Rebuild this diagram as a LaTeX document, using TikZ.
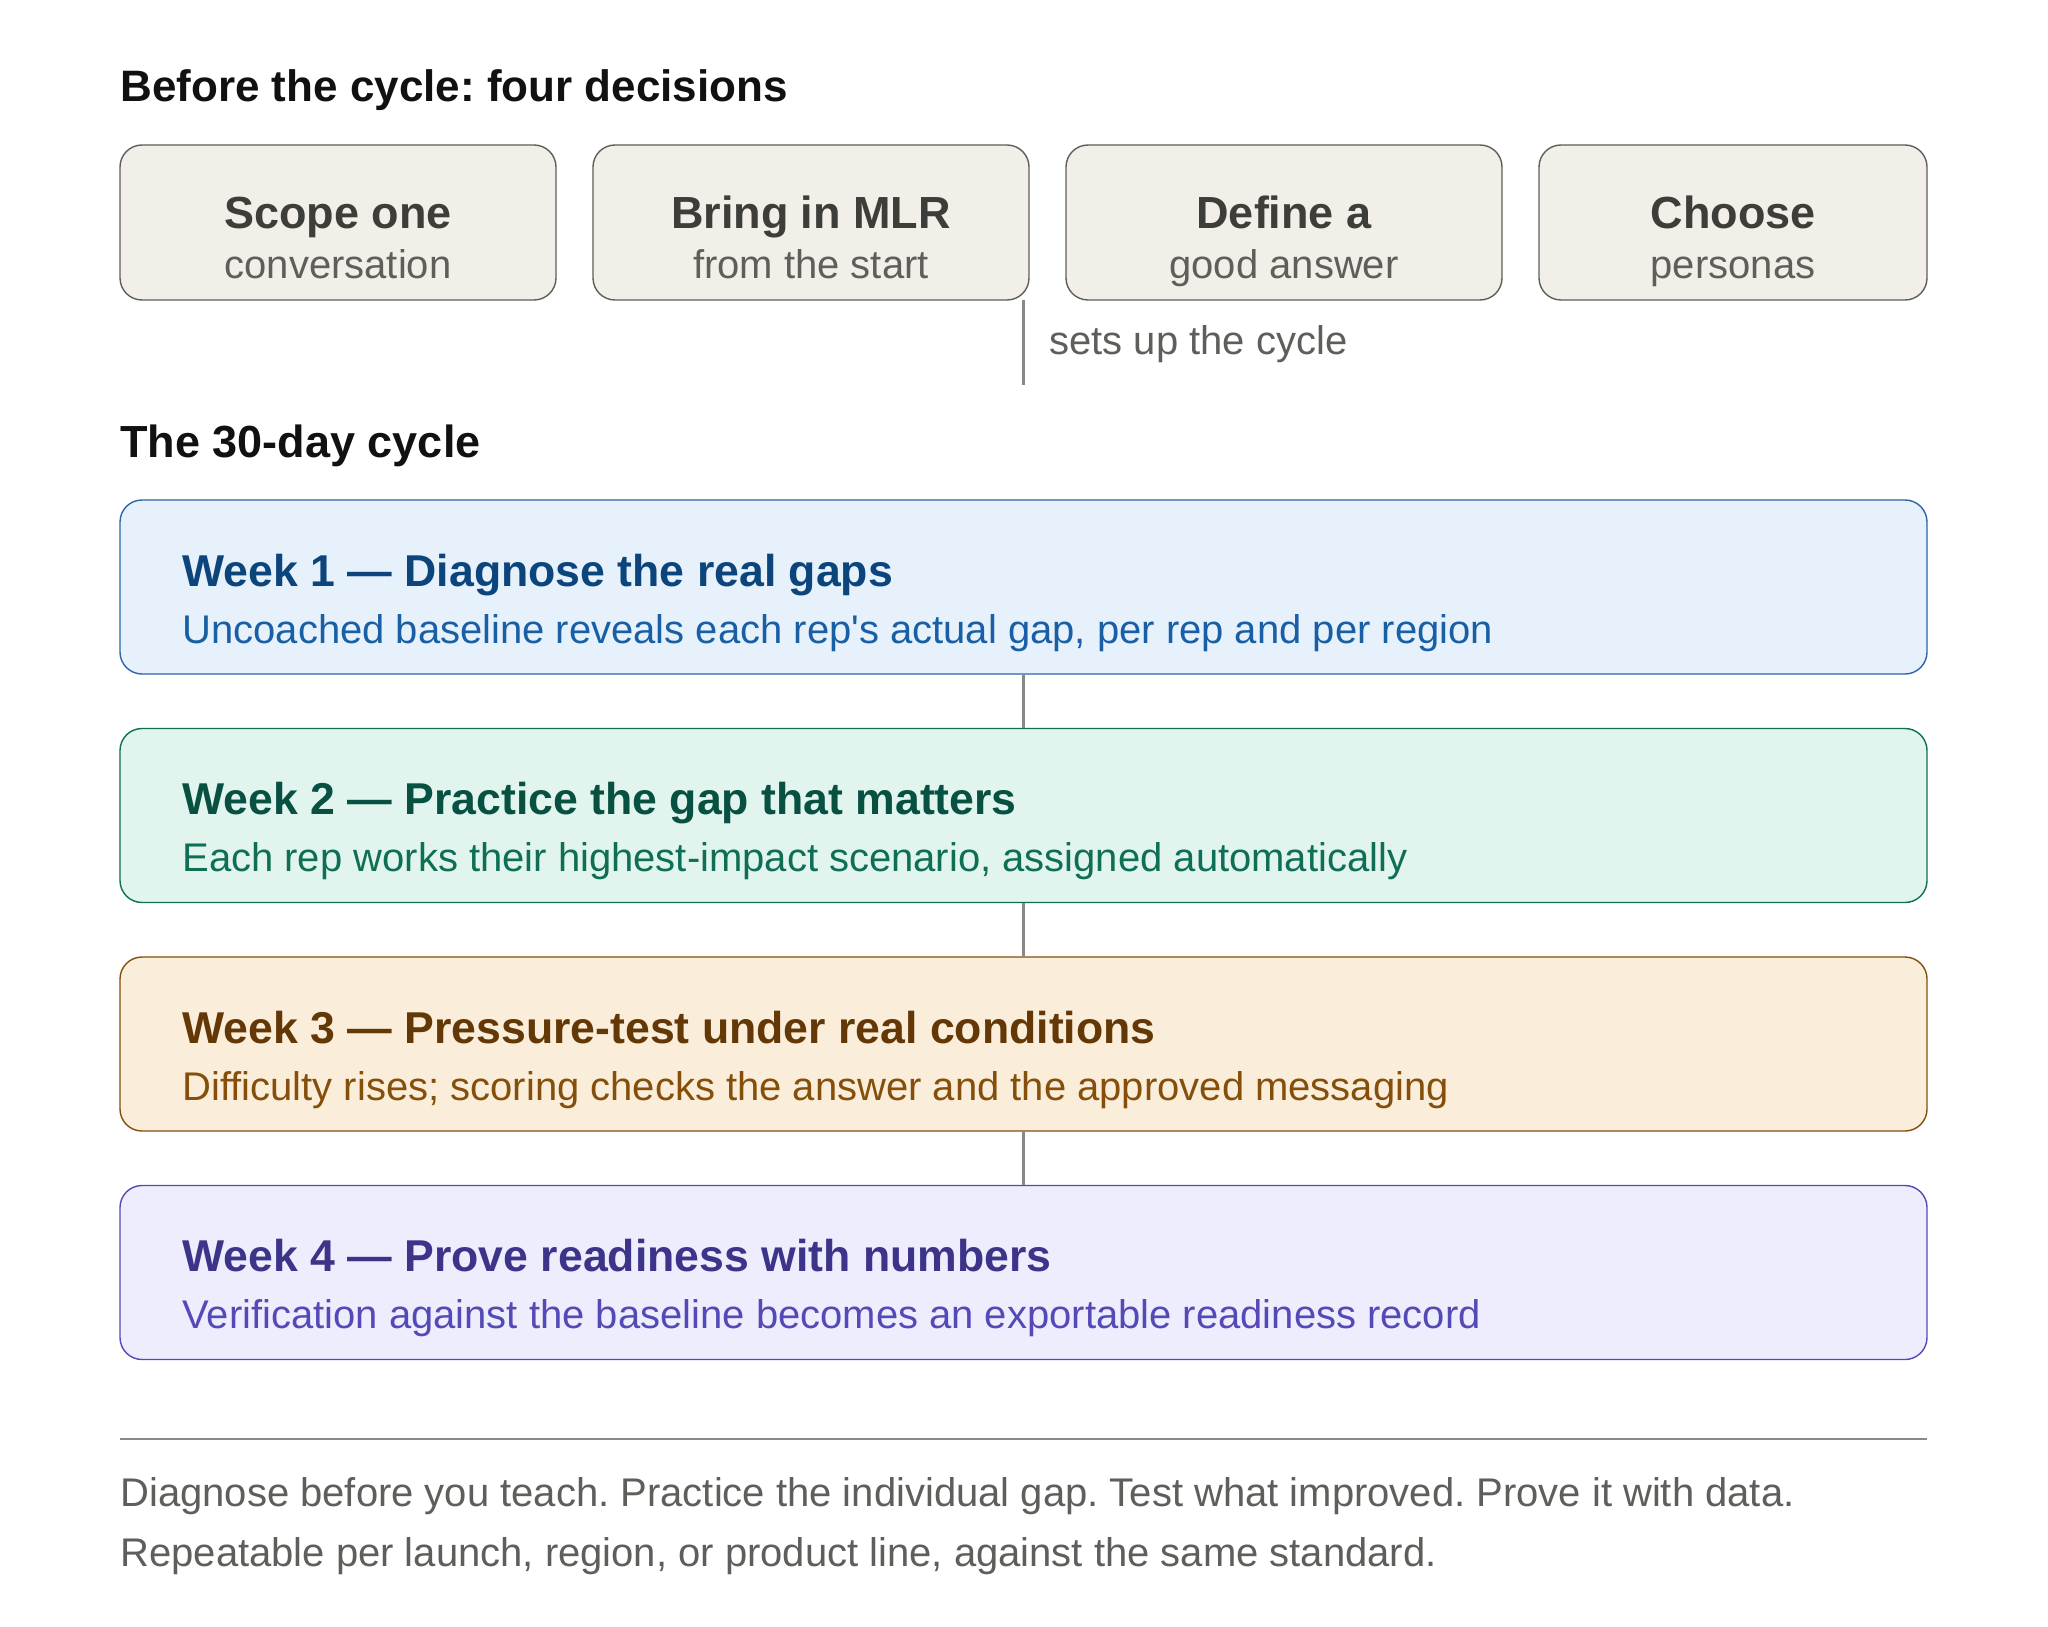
\documentclass[tikz,border=0pt]{standalone}
\usepackage{fontspec}
\setmainfont{Liberation Sans}
\frenchspacing
\definecolor{ink}{HTML}{111111}
\definecolor{grayfill}{HTML}{F1EFE8}
\definecolor{grayline}{HTML}{5F5E5A}
\definecolor{graytitle}{HTML}{3D3D3A}
\definecolor{graysub}{HTML}{5F5E5A}
\definecolor{conn}{HTML}{8A8985}
\definecolor{bfill}{HTML}{E6F1FB}\definecolor{bline}{HTML}{2A66A8}\definecolor{btitle}{HTML}{0C447C}\definecolor{bsub}{HTML}{185FA5}
\definecolor{gfill}{HTML}{E1F5EE}\definecolor{gline}{HTML}{0F6E56}\definecolor{gtitle}{HTML}{085041}\definecolor{gsub}{HTML}{0F6E56}
\definecolor{ofill}{HTML}{FAEEDA}\definecolor{oline}{HTML}{854F0B}\definecolor{otitle}{HTML}{633806}\definecolor{osub}{HTML}{854F0B}
\definecolor{pfill}{HTML}{EEEDFE}\definecolor{pline}{HTML}{534AB7}\definecolor{ptitle}{HTML}{3C3489}\definecolor{psub}{HTML}{534AB7}
\tikzset{
  heading/.style={anchor=base west, inner sep=0pt, text=ink, font=\fontsize{22pt}{26pt}\selectfont\bfseries},
  topbox/.style={draw=grayline, fill=grayfill, line width=0.7pt, rounded corners=11pt, inner sep=0pt, minimum height=77.5pt},
  boxtitle/.style={anchor=base, inner sep=0pt, text=graytitle, font=\fontsize{22.5pt}{26pt}\selectfont\bfseries},
  boxsub/.style={anchor=base, inner sep=0pt, text=graysub, font=\fontsize{20pt}{24pt}\selectfont},
  weekbox/.style={line width=0.7pt, rounded corners=11pt, inner sep=0pt, minimum width=903.5pt, minimum height=87pt},
  weektitle/.style={anchor=base west, inner sep=0pt, font=\fontsize{22.3pt}{26pt}\selectfont\bfseries},
  weeksub/.style={anchor=base west, inner sep=0pt, font=\fontsize{20pt}{24pt}\selectfont},
  connector/.style={draw=conn, line width=1.4pt},
  note/.style={anchor=base west, inner sep=0pt, text=graysub, font=\fontsize{20pt}{24pt}\selectfont},
}
\begin{document}
\begin{tikzpicture}[x=0.5pt,y=-0.5pt]
\useasboundingbox[fill=white] (0,0) rectangle (2048,1626);

% heading 1
\node[heading] (h1) at (120,102) {Before the cycle: four decisions};

% top boxes
\node[topbox, minimum width=218pt] (b1) at (338,222.5) {};
\node[topbox, minimum width=218pt] (b2) at (811,222.5) {};
\node[topbox, minimum width=218pt] (b3) at (1284,222.5) {};
\node[topbox, minimum width=194pt] (b4) at (1733,222.5) {};

\node[boxtitle] (b1t) at (338,229) {Scope one};
\node[boxsub]   (b1s) at (338,279) {conversation};
\node[boxtitle] (b2t) at (811,229) {Bring in MLR};
\node[boxsub]   (b2s) at (811,279) {from the start};
\node[boxtitle] (b3t) at (1284,229) {Define a};
\node[boxsub]   (b3s) at (1284,279) {good answer};
\node[boxtitle] (b4t) at (1733,229) {Choose};
\node[boxsub]   (b4s) at (1733,279) {personas};

% sets up the cycle
\coordinate (c0) at (1023.5,300.5);
\coordinate (c1) at (1023.5,385);
\draw[connector] (c0) -- (c1);
\node[note] (setup) at (1049,354) {sets up the cycle};

% heading 2
\node[heading, font=\fontsize{22.5pt}{26pt}\selectfont\bfseries] (h2) at (120,457) {The 30-day cycle};

% week boxes
\node[weekbox, draw=bline, fill=bfill] (w1) at (1023.5,587) {};
\node[weekbox, draw=gline, fill=gfill] (w2) at (1023.5,815.5) {};
\node[weekbox, draw=oline, fill=ofill] (w3) at (1023.5,1044) {};
\node[weekbox, draw=pline, fill=pfill] (w4) at (1023.5,1272.5) {};

\draw[connector] (w1.south) -- (w2.north);
\draw[connector] (w2.south) -- (w3.north);
\draw[connector] (w3.south) -- (w4.north);

\node[weektitle, text=btitle] (w1t) at (182,586) {Week 1 — Diagnose the real gaps};
\node[weeksub, text=bsub]     (w1s) at (182,643) {Uncoached baseline reveals each rep\textquotesingle s actual gap, per rep and per region};
\node[weektitle, text=gtitle] (w2t) at (182,814.5) {Week 2 — Practice the gap that matters};
\node[weeksub, text=gsub]     (w2s) at (182,871.5) {Each rep works their highest-impact scenario, assigned automatically};
\node[weektitle, text=otitle] (w3t) at (182,1043) {Week 3 — Pressure-test under real conditions};
\node[weeksub, text=osub]     (w3s) at (182,1100) {Difficulty rises; scoring checks the answer and the approved messaging};
\node[weektitle, text=ptitle] (w4t) at (182,1271.5) {Week 4 — Prove readiness with numbers};
\node[weeksub, text=psub]     (w4s) at (182,1328.5) {Verification against the baseline becomes an exportable readiness record};

% rule and footer
\coordinate (r0) at (120,1439);
\coordinate (r1) at (1927,1439);
\draw[draw=conn, line width=0.7pt] (r0) -- (r1);
\node[note] (f1) at (120,1506) {Diagnose before you teach. Practice the individual gap. Test what improved. Prove it with data.};
\node[note] (f2) at (120,1566) {Repeatable per launch, region, or product line, against the same standard.};
\end{tikzpicture}
\end{document}
